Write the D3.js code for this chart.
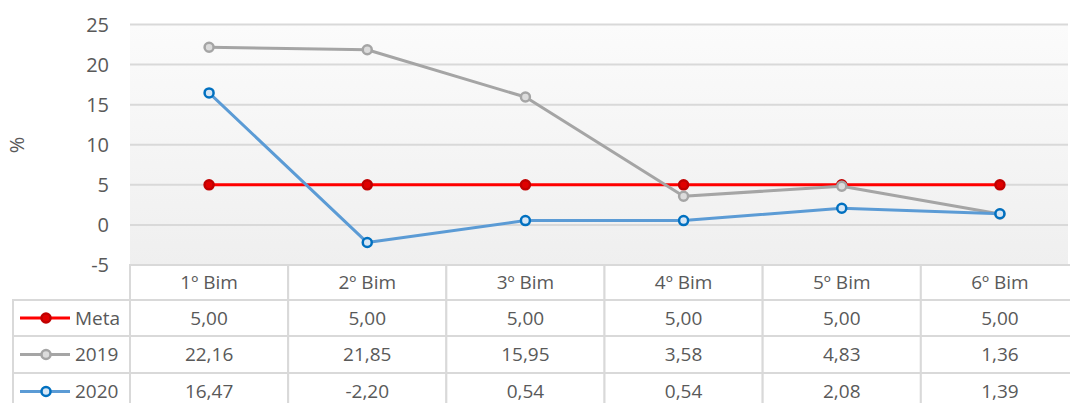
<!DOCTYPE html>
<html>
<head>
<meta charset="utf-8">
<script src="https://cdn.jsdelivr.net/npm/d3@7"></script>
<style>
  body { margin: 0; background: #fff; }
  svg { display: block; font-family: "Open Sans", sans-serif; }
</style>
</head>
<body>
<svg id="chart" width="1070" height="403"></svg>
<script>
// chart data
const categories = ["1º Bim", "2º Bim", "3º Bim", "4º Bim", "5º Bim", "6º Bim"];
const meta = [5.00, 5.00, 5.00, 5.00, 5.00, 5.00];
const y2019 = [22.16, 21.85, 15.95, 3.58, 4.83, 1.36];
const y2020 = [16.47, -2.20, 0.54, 0.54, 2.08, 1.39];
const yTicks = [-5, 0, 5, 10, 15, 20, 25];

const series = [
  { name: "Meta", values: meta, line: "#ff0000", mark: "#e00000", markStroke: "#c00000" },
  { name: "2019", values: y2019, line: "#a5a5a5", mark: "#dcdcdc", markStroke: "#a5a5a5" },
  { name: "2020", values: y2020, line: "#5b9bd5", mark: "#d6e6f5", markStroke: "#0070c0" }
];

const svg = d3.select("#chart");
const plotLeft = 130, plotEnd = 1079, plotRight = 1068;
const plotTop = 24.5, plotBottom = 265;
const rowH = [35, 36, 37, 37]; // header, Meta, 2019, 2020

const x = d3.scaleBand().domain(categories).range([plotLeft, plotEnd]);
const y = d3.scaleLinear().domain([-5, 25]).range([plotBottom, plotTop]);

// plot background gradient
const grad = svg.append("defs").append("linearGradient")
  .attr("id", "bg").attr("x1", 0).attr("y1", 0).attr("x2", 0).attr("y2", 1);
grad.append("stop").attr("offset", "0%").attr("stop-color", "#fbfbfb");
grad.append("stop").attr("offset", "100%").attr("stop-color", "#efefef");

svg.append("rect")
  .attr("x", plotLeft).attr("y", plotTop)
  .attr("width", plotRight - plotLeft).attr("height", plotBottom - plotTop)
  .attr("fill", "url(#bg)");

// gridlines
svg.append("g")
  .selectAll("line")
  .data(yTicks)
  .join("line")
  .attr("x1", plotLeft).attr("x2", plotRight)
  .attr("y1", d => y(d)).attr("y2", d => y(d))
  .attr("stroke", "#d9d9d9").attr("stroke-width", 2);

// y axis labels
svg.append("g")
  .selectAll("text")
  .data(yTicks)
  .join("text")
  .attr("x", 109).attr("y", d => y(d))
  .attr("dy", "0.36em")
  .attr("text-anchor", "end")
  .attr("font-size", 20).attr("fill", "#595959")
  .text(d => d);

svg.append("text")
  .attr("transform", "translate(24,145) rotate(-90)")
  .attr("text-anchor", "middle")
  .attr("font-size", 20).attr("fill", "#595959")
  .text("%");

// lines + markers
const cx = d => x(d) + x.bandwidth() / 2;
const line = d3.line().x(d => cx(d[0])).y(d => y(d[1]));

series.forEach(s => {
  const pts = categories.map((c, i) => [c, s.values[i]]);
  svg.append("path")
    .datum(pts)
    .attr("d", line)
    .attr("fill", "none")
    .attr("stroke", s.line)
    .attr("stroke-width", 3)
    .attr("stroke-linejoin", "round");
  svg.append("g")
    .selectAll("circle")
    .data(pts)
    .join("circle")
    .attr("cx", d => cx(d[0])).attr("cy", d => y(d[1]))
    .attr("r", 4.5)
    .attr("fill", s.mark)
    .attr("stroke", s.markStroke)
    .attr("stroke-width", 2.5);
});

// data table
const fmt = v => v.toFixed(2).replace(".", ",");
const table = svg.append("g");
const rowTops = [plotBottom];
rowH.forEach((h, i) => rowTops.push(rowTops[i] + h));

// header row
table.selectAll("rect.head")
  .data(categories)
  .join("rect")
  .attr("class", "head")
  .attr("x", d => x(d)).attr("y", rowTops[0])
  .attr("width", x.bandwidth()).attr("height", rowH[0])
  .attr("fill", "#fff").attr("stroke", "#d9d9d9").attr("stroke-width", 2);
table.selectAll("text.head")
  .data(categories)
  .join("text")
  .attr("class", "head")
  .attr("x", d => cx(d)).attr("y", rowTops[0] + rowH[0] / 2)
  .attr("dy", "0.36em").attr("text-anchor", "middle")
  .attr("font-size", 19).attr("fill", "#595959")
  .text(d => d);

series.forEach((s, r) => {
  const ry = rowTops[r + 1], h = rowH[r + 1];
  const row = table.append("g");
  row.append("rect")
    .attr("x", 13).attr("y", ry)
    .attr("width", plotLeft - 13).attr("height", h)
    .attr("fill", "#fff").attr("stroke", "#d9d9d9").attr("stroke-width", 2);
  row.selectAll("rect.cell")
    .data(categories)
    .join("rect")
    .attr("class", "cell")
    .attr("x", d => x(d)).attr("y", ry)
    .attr("width", x.bandwidth()).attr("height", h)
    .attr("fill", "#fff").attr("stroke", "#d9d9d9").attr("stroke-width", 2);
  row.selectAll("text.cell")
    .data(categories)
    .join("text")
    .attr("class", "cell")
    .attr("x", d => cx(d)).attr("y", ry + h / 2)
    .attr("dy", "0.36em").attr("text-anchor", "middle")
    .attr("font-size", 19).attr("fill", "#595959")
    .text((d, i) => fmt(s.values[i]));
  // legend key
  row.append("line")
    .attr("x1", 20).attr("x2", 70)
    .attr("y1", ry + h / 2).attr("y2", ry + h / 2)
    .attr("stroke", s.line).attr("stroke-width", 3);
  row.append("circle")
    .attr("cx", 46).attr("cy", ry + h / 2).attr("r", 4.5)
    .attr("fill", s.mark).attr("stroke", s.markStroke).attr("stroke-width", 2.5);
  row.append("text")
    .attr("x", 75).attr("y", ry + h / 2)
    .attr("dy", "0.36em")
    .attr("font-size", 19).attr("fill", "#595959")
    .text(s.name);
});
</script>
</body>
</html>
